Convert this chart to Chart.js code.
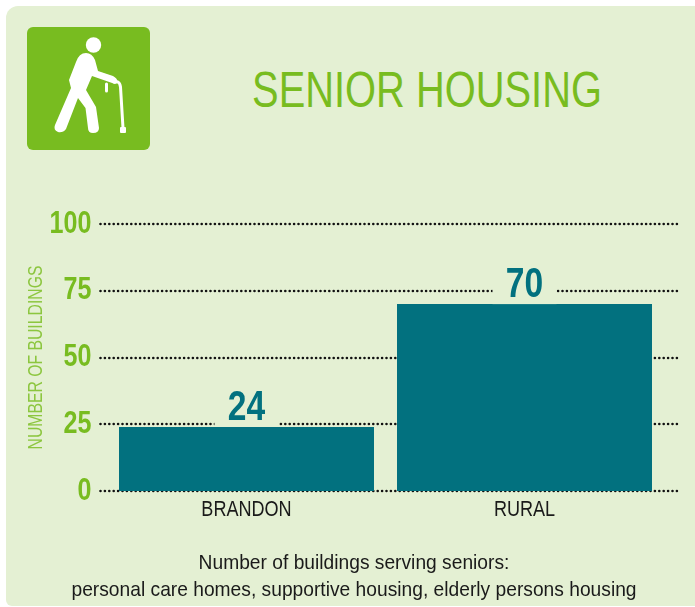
<!DOCTYPE html>
<html><head><meta charset="utf-8">
<script src="https://cdn.jsdelivr.net/npm/chart.js@4/dist/chart.umd.js"></script>
<style>
html,body{margin:0;padding:0;background:#fff;width:695px;height:607px;overflow:hidden}
#panel{position:absolute;left:6px;top:6px;width:689px;height:600px;background:#e4f0d3;border-radius:12px 0 0 6px}
#chartbox{position:absolute;left:0;top:0;width:695px;height:607px}
#icon{position:absolute;left:27px;top:27px}
.t{position:absolute;font-family:"Liberation Sans",sans-serif;white-space:nowrap;text-align:center}
#title{left:127px;width:600px;top:62px;font-size:50px;line-height:56px;color:#78bc20;transform:scaleX(.797)}
#cap{left:-46px;width:800px;top:548px;font-size:21px;line-height:27px;color:#1a1a1a;transform:scaleX(.915)}
</style></head><body>
<div id="panel"></div>
<svg id="icon" width="123" height="123" viewBox="27 27 123 123">
<rect x="27" y="27" width="123" height="123" rx="6" fill="#78bc20"/>
<circle cx="93.5" cy="45" r="7.7" fill="#fff"/>
<path fill="#fff" d="M69 80 L76 62 Q79 53 86 53 Q92 53 95 60 L98 71 L113 76 Q117 78 118 82 L115 84 L92 76 L86 90 L96 107 L99 128 Q99 133 93 133 Q88 133 88 128 L85.500 108 L78 98 L66 129 Q63 133 58 132 Q53 130 55 125 L71 88 Z"/>
<g fill="none" stroke="#fff" stroke-linecap="round" stroke-linejoin="round">
<path d="M114 82 L118 82 Q120 83 120.500 87 L123 128" stroke-width="3"/>
<path d="M106.500 84 L106.500 91" stroke-width="3"/>
</g>
<rect x="120" y="127" width="6" height="6" rx="1" fill="#fff"/>
</svg>
<div class="t" id="title">SENIOR HOUSING</div>
<div id="chartbox"><canvas id="c" width="695" height="607"></canvas></div>
<div class="t" id="cap">Number of buildings serving seniors:<br>personal care homes, supportive housing, elderly persons housing</div>
<script>
const categories = ["BRANDON", "RURAL"];
const buildings = [24, 70];
const yTicks = [0, 25, 50, 75, 100];
const FONT = '"Liberation Sans",sans-serif';
const PANEL = '#e4f0d3';

// No condensed face is installed: squeeze canvas text horizontally, per font size.
const canvas = document.getElementById('c');
const rawCtx = canvas.getContext('2d');
const squeeze = { '21px': .75, '21.5px': .84, '31px': .81, '42px': .8 };
const origFill = rawCtx.fillText;
rawCtx.fillText = function (t, x, y) {
  const m = this.font.match(/([\d.]+px)/);
  const k = (m && squeeze[m[1]]) || 1;
  this.save();
  this.translate(x, y);
  this.scale(k, 1);
  origFill.call(this, t, 0, 0);
  this.restore();
};

const dotted = {
  id: 'dotted',
  beforeDatasetsDraw(chart) {
    const {ctx, scales: {y}, chartArea: a} = chart;
    ctx.save();
    ctx.strokeStyle = '#111';
    ctx.lineWidth = 2.6;
    ctx.lineCap = 'round';
    ctx.setLineDash([0, 4.4]);
    yTicks.forEach(v => {
      const py = Math.round(y.getPixelForValue(v));
      ctx.beginPath();
      ctx.moveTo(a.left - 7, py);
      ctx.lineTo(a.right + 14, py);
      ctx.stroke();
    });
    ctx.restore();
  }
};
const valueLabels = {
  id: 'valueLabels',
  afterDatasetsDraw(chart) {
    const {ctx} = chart;
    const meta = chart.getDatasetMeta(0);
    ctx.save();
    ctx.font = 'bold 42px ' + FONT;
    ctx.textAlign = 'center';
    ctx.textBaseline = 'alphabetic';
    meta.data.forEach((bar, i) => {
      const txt = String(buildings[i]);
      ctx.fillStyle = PANEL;
      ctx.fillRect(bar.x - 32, bar.y - 44, 64, 44);
      ctx.fillStyle = '#02717f';
      ctx.fillText(txt, bar.x, bar.y - 7);
    });
    ctx.restore();
  }
};

new Chart(canvas, {
  type: 'bar',
  data: { labels: categories, datasets: [{ data: buildings, backgroundColor: '#02717f', borderWidth: 0, barPercentage: 1, categoryPercentage: 255/278 }] },
  plugins: [dotted, valueLabels],
  options: {
    responsive: false,
    animation: false,
    layout: { padding: { left: 24, right: 31.5, top: 224, bottom: 66 } },
    plugins: { legend: { display: false }, tooltip: { enabled: false } },
    scales: {
      x: {
        grid: { display: false }, border: { display: false },
        afterFit(s) { s.height = 50; },
        ticks: { color: '#1a1a1a', font: { family: FONT, size: 21.5 }, padding: -2, maxRotation: 0 }
      },
      y: {
        min: 0, max: 100,
        afterFit(s) { s.width = 83.5; },
        afterBuildTicks(s) { s.ticks = yTicks.map(v => ({ value: v })); },
        grid: { display: false }, border: { display: false },
        title: { display: true, text: 'NUMBER OF BUILDINGS', color: '#8cc63f', font: { family: FONT, size: 21 }, padding: 0 },
        ticks: { color: '#78bc20', font: { family: FONT, size: 31, weight: 'bold' }, padding: 8 }
      }
    }
  }
});
</script>
</body></html>
